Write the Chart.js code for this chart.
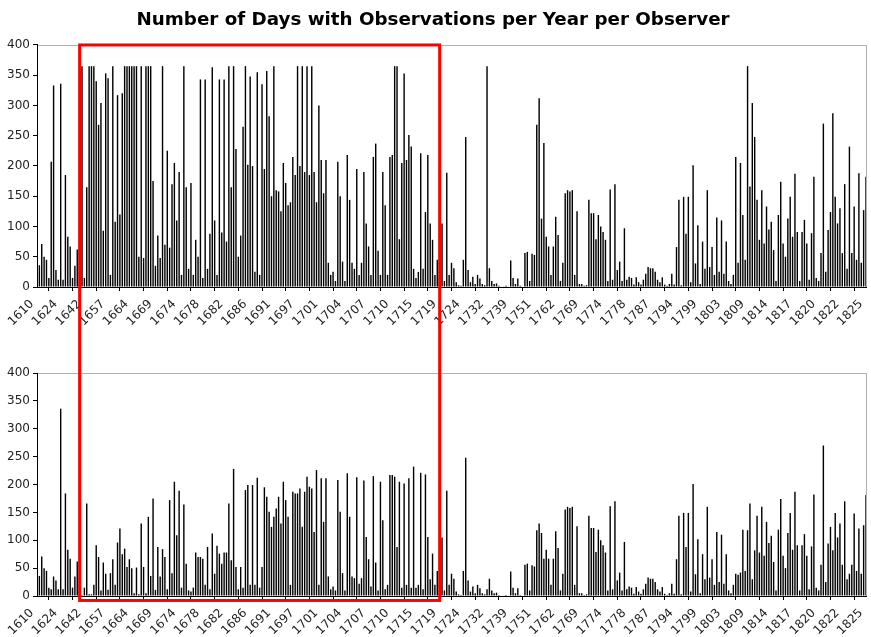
<!DOCTYPE html>
<html>
<head>
<meta charset="utf-8">
<script src="https://cdn.jsdelivr.net/npm/chart.js@4.4.1/dist/chart.umd.min.js"></script>
<style>
    body { margin: 0; background: #fff; }
    #wrap { position: relative; width: 871px; height: 637px; }
    canvas { position: absolute; left: 0; }
</style>
</head>
<body>
<div id="wrap">
    <canvas id="topChart" width="871" height="345" style="top:0"></canvas>
    <canvas id="bottomChart" width="871" height="292" style="top:345px"></canvas>
    <canvas id="overlay" width="871" height="637" style="top:0"></canvas>
</div>
<script>
// one labelled tick every BAR_STEP observer-years
const BAR_STEP = 10;

const yearLabels = [1610, 1624, 1642, 1657, 1664, 1669, 1674, 1678, 1682, 1686, 1691, 1697,
    1701, 1704, 1707, 1710, 1715, 1719, 1724, 1732, 1739, 1751, 1762, 1769,
    1774, 1778, 1787, 1794, 1799, 1803, 1809, 1814, 1817, 1820, 1822, 1825];

// all observers (top panel)
const topObserverDays = [
    188, 36, 71, 50, 45, 15, 207, 333, 28, 12,        // 1610
    336, 12, 185, 83, 67, 15, 35, 62, 365, 365,       // 1624
    15, 165, 365, 365, 365, 340, 268, 304, 93, 353,   // 1642
    345, 20, 365, 108, 317, 120, 320, 365, 365, 365,  // 1657
    365, 365, 365, 50, 365, 48, 365, 365, 365, 175,   // 1664
    35, 85, 48, 365, 70, 225, 65, 170, 205, 110,      // 1669
    190, 20, 365, 165, 30, 172, 20, 78, 50, 343,      // 1674
    15, 343, 30, 88, 363, 110, 20, 343, 90, 343,      // 1678
    75, 365, 165, 365, 228, 50, 85, 265, 365, 202,    // 1682
    348, 200, 25, 355, 20, 335, 195, 357, 282, 150,   // 1686
    365, 160, 158, 125, 205, 172, 135, 140, 215, 185, // 1691
    365, 200, 365, 190, 365, 185, 365, 190, 140, 300, // 1697
    210, 155, 210, 40, 20, 25, 10, 207, 150, 42,      // 1701
    10, 218, 144, 40, 30, 195, 20, 40, 190, 105,      // 1704
    67, 20, 215, 237, 60, 20, 190, 135, 20, 215,      // 1707
    218, 365, 365, 79, 205, 353, 210, 251, 232, 30,   // 1710
    15, 25, 221, 30, 124, 218, 105, 78, 20, 45,       // 1715
    202, 105, 10, 189, 20, 40, 31, 8, 3, 2,           // 1719
    45, 248, 28, 8, 17, 5, 20, 14, 5, 3,              // 1724
    365, 31, 10, 5, 6, 2, 1, 1, 2, 1,                 // 1732
    44, 15, 5, 14, 2, 0, 56, 58, 10, 55,              // 1739
    53, 268, 312, 113, 238, 83, 67, 20, 67, 116,      // 1751
    86, 10, 40, 155, 160, 158, 160, 20, 125, 5,       // 1762
    5, 2, 3, 144, 122, 122, 79, 119, 100, 91,         // 1769
    78, 10, 161, 12, 170, 28, 42, 10, 97, 12,         // 1774
    17, 15, 4, 16, 8, 4, 12, 22, 33, 31,              // 1778
    31, 25, 12, 8, 16, 4, 2, 5, 22, 4,                // 1787
    66, 144, 3, 149, 88, 149, 8, 201, 39, 102,        // 1794
    5, 75, 30, 160, 33, 66, 20, 115, 25, 110,         // 1799
    22, 75, 10, 5, 20, 215, 40, 205, 119, 45,         // 1803
    365, 166, 304, 248, 144, 78, 160, 72, 133, 95,    // 1809
    108, 61, 10, 119, 174, 72, 50, 113, 149, 83,      // 1814
    187, 91, 10, 91, 111, 72, 12, 89, 182, 15,        // 1817
    10, 56, 270, 25, 94, 124, 287, 149, 105, 130,     // 1820
    56, 170, 30, 232, 56, 133, 45, 188, 40, 127,      // 1822
    182                                               // 1825
];

// same observers, bottom panel
const bottomObserverDays = [
    188, 36, 71, 50, 45, 15, 12, 35, 28, 12,          // 1610
    336, 12, 184, 83, 67, 15, 35, 62, 38, 2,          // 1624
    15, 166, 3, 3, 20, 91, 70, 10, 60, 40,            // 1642
    11, 41, 66, 20, 96, 121, 75, 85, 52, 66,          // 1657
    50, 5, 51, 3, 130, 52, 5, 142, 36, 175,           // 1664
    11, 88, 35, 84, 70, 12, 172, 41, 205, 109,        // 1669
    189, 15, 164, 58, 10, 8, 15, 78, 70, 70,          // 1674
    67, 20, 88, 12, 112, 40, 90, 76, 58, 78,          // 1678
    78, 166, 64, 228, 52, 12, 52, 15, 190, 199,       // 1682
    20, 199, 20, 212, 15, 52, 195, 178, 151, 124,     // 1686
    142, 157, 178, 130, 205, 172, 142, 20, 187, 184,  // 1691
    184, 193, 124, 187, 214, 196, 193, 115, 226, 20,  // 1697
    211, 133, 211, 35, 12, 17, 10, 208, 151, 41,      // 1701
    10, 220, 142, 35, 32, 213, 22, 32, 207, 106,      // 1704
    66, 17, 215, 60, 10, 205, 136, 12, 20, 217,       // 1707
    217, 214, 88, 205, 15, 202, 20, 211, 15, 232,     // 1710
    15, 20, 221, 12, 218, 106, 30, 76, 20, 45,        // 1715
    202, 105, 10, 189, 20, 40, 31, 8, 3, 2,           // 1719
    45, 248, 28, 8, 17, 5, 20, 14, 5, 3,              // 1724
    12, 31, 10, 5, 6, 2, 1, 1, 2, 1,                  // 1732
    44, 15, 5, 14, 2, 0, 56, 58, 10, 55,              // 1739
    53, 118, 130, 113, 67, 83, 67, 20, 67, 116,       // 1751
    86, 10, 40, 155, 160, 158, 160, 20, 125, 5,       // 1762
    5, 2, 3, 144, 122, 122, 79, 119, 100, 91,         // 1769
    78, 10, 161, 12, 170, 28, 42, 10, 97, 12,         // 1774
    17, 15, 4, 16, 8, 4, 12, 22, 33, 31,              // 1778
    31, 25, 12, 8, 16, 4, 2, 5, 22, 4,                // 1787
    66, 144, 3, 149, 88, 149, 8, 201, 39, 102,        // 1794
    5, 75, 30, 160, 33, 66, 20, 115, 25, 110,         // 1799
    22, 75, 10, 5, 20, 40, 38, 42, 119, 45,           // 1803
    118, 166, 30, 82, 144, 78, 160, 72, 133, 95,      // 1809
    108, 61, 10, 119, 174, 72, 50, 113, 149, 83,      // 1814
    187, 91, 10, 91, 111, 72, 12, 89, 182, 15,        // 1817
    10, 56, 270, 25, 94, 124, 82, 149, 105, 130,      // 1820
    56, 170, 30, 40, 56, 148, 45, 121, 40, 127,       // 1822
    181                                               // 1825
];

// highlighted span (bar indexes and y values)
const boxFirstBar = 18;
const boxLastBar = 170;
const boxTopValue = 400;
const boxBottomValue = -8;

const TITLE = 'Number of Days with Observations per Year per Observer';
const FONT = "'DejaVu Sans', Verdana, sans-serif";

// category list: only every BAR_STEP-th bar carries a year
const categories = topObserverDays.map((v, i) => i % BAR_STEP === 0 ? String(yearLabels[i / BAR_STEP]) : '');

// grey frame round the plot area, the axes draw black over it
const plotFrame = {
    id: 'plotFrame',
    beforeDraw(chart) {
        const a = chart.chartArea;
        const ctx = chart.ctx;
        ctx.save();
        ctx.strokeStyle = '#b0b0b0';
        ctx.lineWidth = 1;
        ctx.strokeRect(Math.round(a.left) + 0.5, Math.round(a.top) + 0.5, Math.round(a.right - a.left), Math.round(a.bottom - a.top));
        ctx.restore();
    }
};

function makeChart(canvasId, values, showTitle, topPad, xHeight) {
    const ctx = document.getElementById(canvasId).getContext('2d');
    return new Chart(ctx, {
        type: 'bar',
        data: {
            labels: categories,
            datasets: [{ data: values, backgroundColor: '#000', borderWidth: 0, barPercentage: 1, categoryPercentage: 0.6 }]
        },
        options: {
            responsive: false,
            animation: false,
            events: [],
            layout: { padding: { top: topPad, right: 5, left: 0, bottom: 0 } },
            plugins: {
                legend: { display: false },
                tooltip: { enabled: false },
                title: {
                    display: showTitle,
                    text: TITLE,
                    color: '#000',
                    font: { family: FONT, size: 18.3, weight: 'bold' },
                    padding: { top: 9, bottom: 14 }
                }
            },
            scales: {
                x: {
                    offset: false,
                    grid: { drawOnChartArea: false, drawTicks: true, tickLength: 4, color: '#000' },
                    border: { color: '#000', width: 1 },
                    ticks: { autoSkip: false, maxRotation: 45, minRotation: 45, color: '#222', padding: 6, labelOffset: -5, font: { family: FONT, size: 12 } },
                    afterBuildTicks: scale => { scale.ticks = scale.ticks.filter(t => t.value % BAR_STEP === 0); },
                    afterFit: scale => {
                        scale.height = xHeight;
                        scale.paddingRight = 0;
                    }
                },
                y: {
                    min: 0,
                    max: 400,
                    grid: { drawOnChartArea: false, drawTicks: true, tickLength: 4, color: '#000' },
                    border: { color: '#000', width: 1 },
                    ticks: { stepSize: 50, color: '#222', padding: 3, font: { family: FONT, size: 12 } },
                    afterFit: scale => { scale.width = 37; }
                }
            }
        },
        plugins: [plotFrame]
    });
}

const topChart = makeChart('topChart', topObserverDays, true, 0, 58);
const bottomChart = makeChart('bottomChart', bottomObserverDays, false, 28, 41);

// red box spanning both panels
function drawHighlight() {
    const ov = document.getElementById('overlay').getContext('2d');
    const offset = document.getElementById('bottomChart').offsetTop;
    const left = topChart.scales.x.getPixelForValue(boxFirstBar);
    const right = topChart.scales.x.getPixelForValue(boxLastBar);
    const top = topChart.scales.y.getPixelForValue(boxTopValue);
    const bottom = offset + bottomChart.scales.y.getPixelForValue(boxBottomValue);
    ov.strokeStyle = '#ff0000';
    ov.lineWidth = 3;
    ov.strokeRect(left, top, right - left, bottom - top);
}
drawHighlight();
</script>
</body>
</html>
